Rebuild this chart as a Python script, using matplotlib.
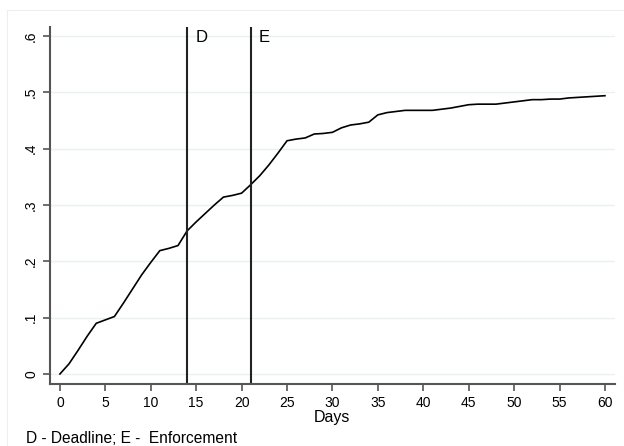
import matplotlib
matplotlib.use("Agg")
import matplotlib.pyplot as plt
from matplotlib.lines import Line2D

plt.rcParams["font.family"] = ["Liberation Sans", "DejaVu Sans"]

days = list(range(0, 61))
share = [
    0.000, 0.018, 0.042, 0.067, 0.090, 0.096, 0.102, 0.126, 0.151, 0.176,
    0.198, 0.219, 0.223, 0.228, 0.254, 0.270, 0.285, 0.300, 0.314, 0.317,
    0.321, 0.336, 0.352, 0.371, 0.392, 0.414, 0.417, 0.419, 0.426, 0.427,
    0.429, 0.437, 0.442, 0.444, 0.447, 0.460, 0.464, 0.466, 0.468, 0.468,
    0.468, 0.468, 0.470, 0.472, 0.475, 0.478, 0.479, 0.479, 0.479, 0.481,
    0.483, 0.485, 0.487, 0.487, 0.488, 0.488, 0.490, 0.491, 0.492, 0.493,
    0.494,
]
events = [14, 21]
event_labels = ["D", "E"]
xticks = list(range(0, 61, 5))
yticks = [0, 0.1, 0.2, 0.3, 0.4, 0.5, 0.6]
ytick_labels = ["0", ".1", ".2", ".3", ".4", ".5", ".6"]

fig = plt.figure(figsize=(6.24, 4.46), dpi=100)
# faint graph-region border (only top and left edges visible in the crop)
fig.lines.append(Line2D([0.012, 1.0], [0.977, 0.977], transform=fig.transFigure,
                        color="#efefef", lw=0.8))
fig.lines.append(Line2D([0.012, 0.012], [0.0, 0.977], transform=fig.transFigure,
                        color="#efefef", lw=0.8))
ax = fig.add_axes([0.080, 0.139, 0.9055, 0.8005])

ax.plot(days, share, color="black", lw=1.2)
for d, lab in zip(events, event_labels):
    ax.axvline(d, color="#222222", lw=1.5)
    ax.text(d + 0.9, 0.598, lab, fontsize=12, va="center", ha="left")

ax.set_xlim(-1.1, 61.1)
ax.set_ylim(-0.0178, 0.616)
ax.set_xticks(xticks)
ax.set_yticks(yticks)
ax.set_yticklabels(ytick_labels, rotation=90, va="center")
ax.tick_params(axis="both", labelsize=10, length=5, width=1.2, color="#555555", direction="out")
ax.grid(axis="y", color="#e8f0f0", lw=1.0)
ax.set_axisbelow(True)
for s in ["top", "right"]:
    ax.spines[s].set_visible(False)
for s in ["left", "bottom"]:
    ax.spines[s].set_color("#555555")
    ax.spines[s].set_linewidth(1.5)

ax.set_xlabel("Days", fontsize=11.5, labelpad=0)
fig.text(0.042, 0.0074, "D - Deadline; E -  Enforcement", fontsize=11.2, ha="left", va="baseline")

fig.savefig("out.png", dpi=100)
